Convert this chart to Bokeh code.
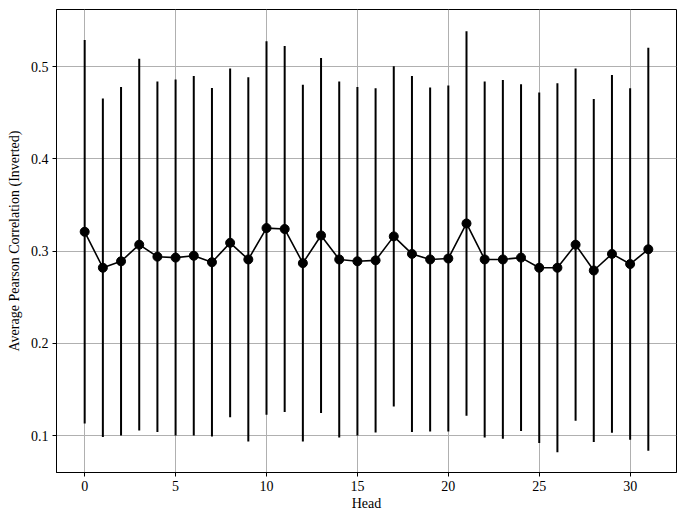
from bokeh.plotting import figure
from bokeh.models import ColumnDataSource, FixedTicker, Range1d
from bokeh.embed import file_html
from bokeh.resources import INLINE

heads = list(range(32))
mean_corr = [0.321, 0.282, 0.289, 0.307, 0.294, 0.293, 0.295, 0.288,
             0.309, 0.291, 0.325, 0.324, 0.287, 0.317, 0.291, 0.289,
             0.290, 0.316, 0.297, 0.291, 0.292, 0.330, 0.291, 0.291,
             0.293, 0.282, 0.282, 0.307, 0.279, 0.297, 0.286, 0.302]
std_corr = [0.208, 0.1835, 0.189, 0.2015, 0.190, 0.193, 0.195, 0.189,
            0.189, 0.1975, 0.2025, 0.1985, 0.1935, 0.1925, 0.193, 0.189,
            0.1865, 0.1845, 0.193, 0.1865, 0.1875, 0.2085, 0.193, 0.1945,
            0.188, 0.190, 0.200, 0.191, 0.186, 0.194, 0.1905, 0.2185]
x_ticks = [0, 5, 10, 15, 20, 25, 30]
y_ticks = [0.1, 0.2, 0.3, 0.4, 0.5]

lower = [m - s for m, s in zip(mean_corr, std_corr)]
upper = [m + s for m, s in zip(mean_corr, std_corr)]
src = ColumnDataSource(dict(head=heads, mean=mean_corr, lower=lower, upper=upper))

FONT = "Liberation Serif"

p = figure(width=677, height=514, output_backend="svg", toolbar_location=None,
           x_range=Range1d(-1.55, 32.55), y_range=Range1d(0.060, 0.562),
           min_border_left=56, min_border_right=1, min_border_top=9, min_border_bottom=42)

p.segment(x0="head", y0="lower", x1="head", y1="upper", source=src,
          line_color="black", line_width=2)
p.line(x="head", y="mean", source=src, line_color="black", line_width=1.6)
p.scatter(x="head", y="mean", source=src, size=9, fill_color="black", line_color="black")

p.outline_line_color = "black"
p.outline_line_width = 1
p.background_fill_color = "white"

p.xaxis.ticker = FixedTicker(ticks=x_ticks)
p.yaxis.ticker = FixedTicker(ticks=y_ticks)
p.xaxis.axis_label = "Head"
p.yaxis.axis_label = "Average Pearson Correlation (Inverted)"
for ax in (p.xaxis, p.yaxis):
    ax.axis_label_text_font = FONT
    ax.axis_label_text_font_style = "normal"
    ax.axis_label_text_font_size = "14px"
    ax.axis_label_text_color = "black"
    ax.major_label_text_font = FONT
    ax.major_label_text_font_size = "14px"
    ax.major_label_text_color = "black"
    ax.axis_line_color = "black"
    ax.major_tick_line_color = "black"
    ax.major_tick_out = 4
    ax.major_tick_in = 0
    ax.minor_tick_line_color = None
p.xaxis.major_label_standoff = 4
p.xaxis.axis_label_standoff = 2
p.yaxis.major_label_standoff = 4
p.yaxis.axis_label_standoff = 6

p.xgrid.ticker = FixedTicker(ticks=x_ticks)
p.ygrid.ticker = FixedTicker(ticks=y_ticks)
p.grid.grid_line_color = "#b0b0b0"
p.grid.grid_line_width = 1

open("out.html", "w").write(file_html(p, INLINE))
